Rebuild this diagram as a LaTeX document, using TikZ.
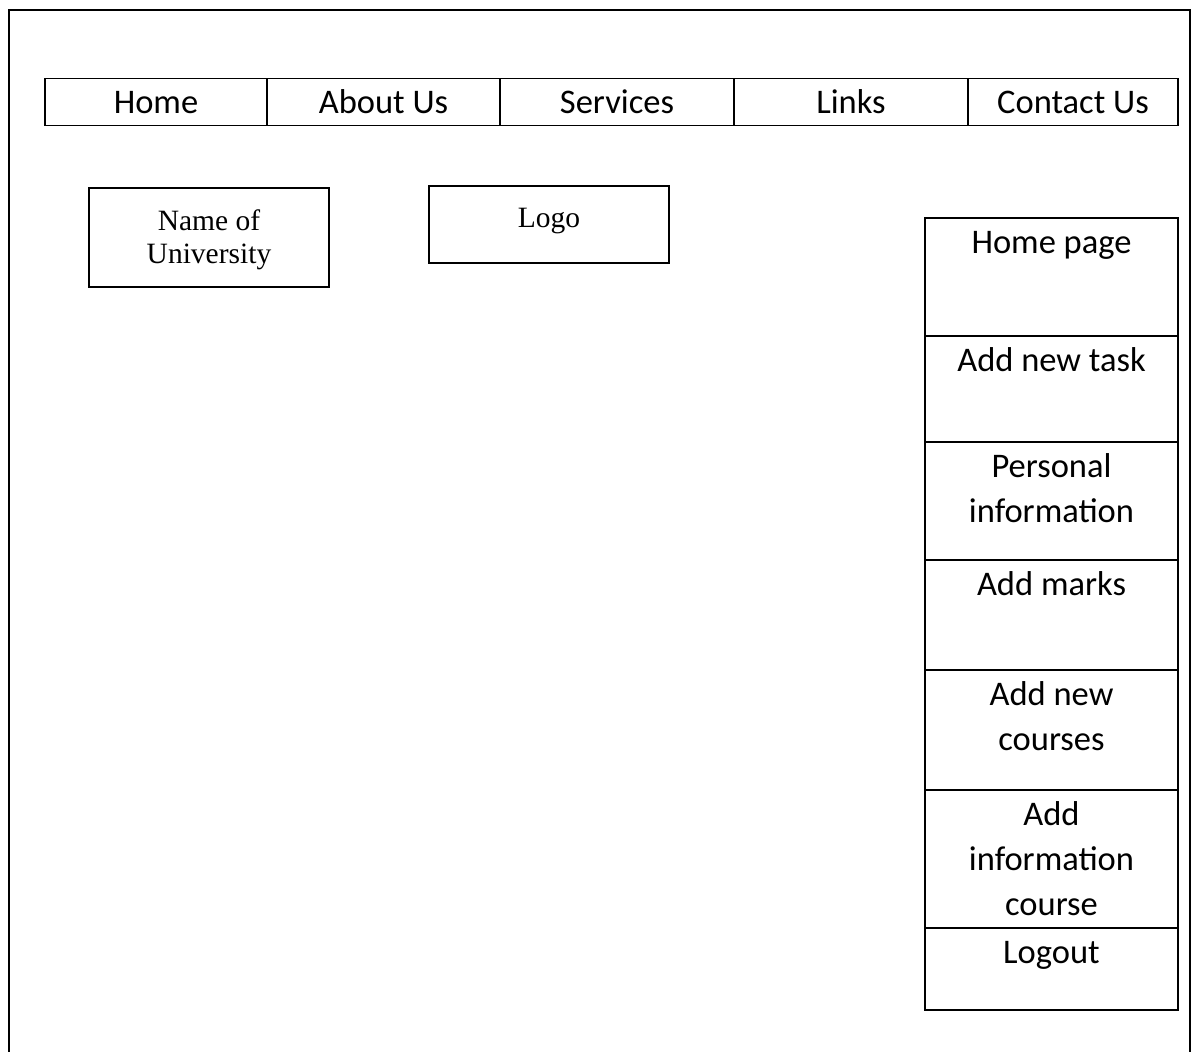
\documentclass[tikz,border=0pt]{standalone}
\usepackage{fontspec}
\setmainfont{Liberation Serif}
\newfontfamily\calibri{Carlito}
\usetikzlibrary{positioning}

\tikzset{
  navcell/.style={draw, line width=1.6pt, outer sep=0pt, inner sep=0pt,
    minimum height=47pt, text height=22pt, text depth=0pt,
    font=\calibri\fontsize{34.5}{45}\selectfont},
  sidecell/.style={draw, line width=1.6pt, outer sep=0pt, inner sep=0pt,
    minimum width=253pt},
  sidetext/.style={align=center, inner sep=0pt,
    font=\calibri\fontsize{34.5}{45}\selectfont},
  infobox/.style={draw, line width=1.6pt, outer sep=0pt, inner sep=0pt,
    minimum width=240pt, align=center, text depth=13pt,
    font=\fontsize{29.5}{33}\selectfont}
}

\begin{document}
\begin{tikzpicture}[x=1pt,y=-1pt]
\useasboundingbox (0,0) rectangle (1195,1052);

% page frame
\path[draw,line width=1.6pt] (9,1052) -- (9,10) -- (1190,10) -- (1190,1052);

% menu bar
\node[navcell, minimum width=222pt] (home) at (156,102) {Home};
\node[navcell, minimum width=233pt, right=0pt of home] (about) {About Us};
\node[navcell, minimum width=234pt, right=0pt of about] (services) {Services};
\node[navcell, minimum width=234pt, right=0pt of services] (links) {Links};
\node[navcell, minimum width=210pt, right=0pt of links] (contact) {Contact Us};

% header boxes
\node[infobox, minimum height=99pt, text depth=2pt] (uni) at (209,237.5) {Name of\\University};
\node[infobox, minimum height=77pt] (logo) at (549,224.5) {Logo};

% side menu
\node[sidecell, minimum height=118pt] (hp) at (1051.5,277) {};
\node[sidecell, minimum height=106pt, below=0pt of hp] (task) {};
\node[sidecell, minimum height=118pt, below=0pt of task] (pinfo) {};
\node[sidecell, minimum height=110pt, below=0pt of pinfo] (marks) {};
\node[sidecell, minimum height=120pt, below=0pt of marks] (courses) {};
\node[sidecell, minimum height=138pt, below=0pt of courses] (cinfo) {};
\node[sidecell, minimum height=82pt, below=0pt of cinfo] (logout) {};

\node[sidetext, below=3.5pt of hp.north] (hpt) {\strut Home page};
\node[sidetext, below=3.5pt of task.north] (taskt) {\strut Add new task};
\node[sidetext, below=3.5pt of pinfo.north] (pinfot) {\strut Personal\\information};
\node[sidetext, below=3.5pt of marks.north] (markst) {\strut Add marks};
\node[sidetext, below=3.5pt of courses.north] (coursest) {\strut Add new\\courses};
\node[sidetext, below=3.5pt of cinfo.north] (cinfot) {\strut Add\\information\\course};
\node[sidetext, below=3.5pt of logout.north] (logoutt) {\strut Logout};
\end{tikzpicture}
\end{document}
